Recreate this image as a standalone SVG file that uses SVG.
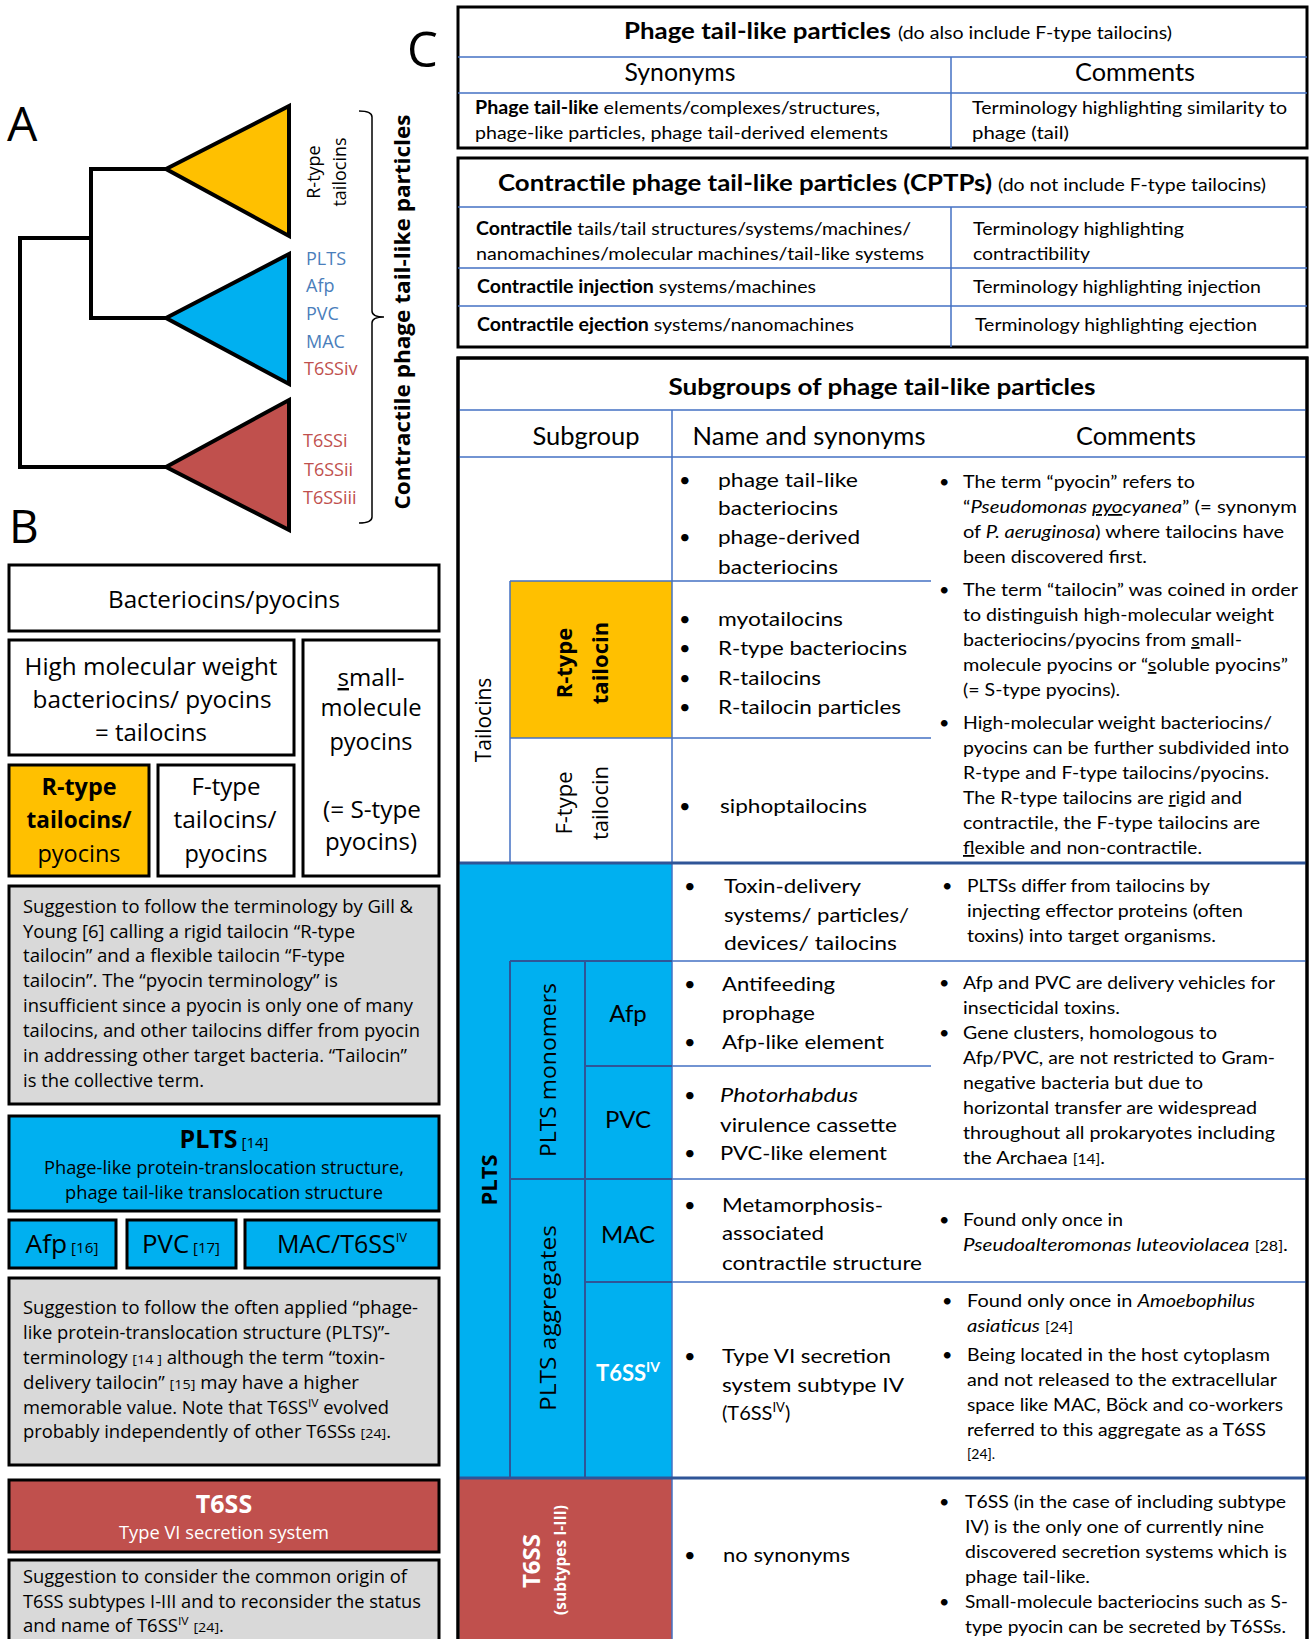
<svg xmlns="http://www.w3.org/2000/svg" width="1309" height="1639" viewBox="0 0 1309 1639">
<style>
.os{font-family:"Open Sans","DejaVu Sans",sans-serif}
.lt{font-family:Lato,"Liberation Sans",sans-serif}
.b{font-weight:bold}
.it{font-style:italic}
.u{text-decoration:underline}
.box{stroke:#000;stroke-width:3}
.bl{stroke:#4472C4;stroke-width:1.5;fill:none}
.db{stroke:#2F5597;stroke-width:2;fill:none}
.mid{text-anchor:middle}
.nm{font-family:Lato,"Liberation Sans",sans-serif;font-size:20px}
.cm{font-family:Lato,"Liberation Sans",sans-serif;font-size:18px}
.gt{font-family:"Open Sans","DejaVu Sans",sans-serif;font-size:17.5px}
.lb{fill:#4A7EBB}
.lr{fill:#C0504D}
</style>
<rect width="1309" height="1639" fill="#fff"/>

<!-- Panel labels -->
<text x="7" y="141" class="os" font-size="48">A</text>
<text x="9" y="543" class="os" font-size="46">B</text>
<text x="407" y="67" class="os" font-size="49">C</text>

<!-- Panel A -->
<g id="connectors" fill="none" stroke="#000" stroke-width="4">
<path d="M166,169 H91 V318 H166"/>
<path d="M91,238 H20 V467 H166"/>
<path d="M359,111 Q372,111 372,117 V311 Q372,317 384,317 Q372,317 372,323 V517 Q372,523 359,523" stroke-width="1.5"/>
</g>
<g id="clade-rtype"><polygon points="166,169 289,106 289,236" fill="#FFC000" stroke="#000" stroke-width="4"/></g>
<g id="clade-plts"><polygon points="166,318 289,254 289,384" fill="#00B0F0" stroke="#000" stroke-width="4"/></g>
<g id="clade-t6ss"><polygon points="166,467 289,400 289,530" fill="#C0504D" stroke="#000" stroke-width="4"/></g>
<g id="tree-labels" class="os" font-size="18">
<text transform="translate(320,172) rotate(-90)" class="mid">R-type</text>
<text transform="translate(346,172) rotate(-90)" class="mid">tailocins</text>
<text x="306" y="265" class="lb">PLTS</text>
<text x="306" y="292" class="lb">Afp</text>
<text x="306" y="320" class="lb">PVC</text>
<text x="306" y="348" class="lb">MAC</text>
<text x="304" y="375" class="lr">T6SSiv</text>
<text x="303" y="447" class="lr">T6SSi</text>
<text x="304" y="476" class="lr">T6SSii</text>
<text x="303" y="504" class="lr">T6SSiii</text>
<text transform="translate(410,312) rotate(-90)" class="mid b" font-size="22" textLength="395" lengthAdjust="spacingAndGlyphs">Contractile phage tail-like particles</text>
</g>

<!-- Panel B -->
<g id="b-bacteriocins">
<rect x="9" y="565" width="430" height="66" fill="#fff" class="box"/>
<text x="224" y="608" class="os mid" font-size="24" textLength="232" lengthAdjust="spacingAndGlyphs">Bacteriocins/pyocins</text>
</g>
<g id="b-hmw">
<rect x="9" y="640" width="285" height="115" fill="#fff" class="box"/>
<text x="151" y="675" class="os mid" font-size="24" textLength="253" lengthAdjust="spacingAndGlyphs">High molecular weight</text>
<text x="152" y="708" class="os mid" font-size="24" textLength="239" lengthAdjust="spacingAndGlyphs">bacteriocins/ pyocins</text>
<text x="151" y="741" class="os mid" font-size="24" textLength="112" lengthAdjust="spacingAndGlyphs">= tailocins</text>
</g>
<g id="b-small">
<rect x="303" y="640" width="136" height="236" fill="#fff" class="box"/>
<text x="371" y="686" class="os mid" font-size="24" textLength="67" lengthAdjust="spacingAndGlyphs"><tspan class="u">s</tspan>mall-</text>
<text x="371" y="716" class="os mid" font-size="24" textLength="101" lengthAdjust="spacingAndGlyphs">molecule</text>
<text x="371" y="750" class="os mid" font-size="24" textLength="83" lengthAdjust="spacingAndGlyphs">pyocins</text>
<text x="372" y="818" class="os mid" font-size="24" textLength="98" lengthAdjust="spacingAndGlyphs">(= S-type</text>
<text x="371" y="850" class="os mid" font-size="24" textLength="92" lengthAdjust="spacingAndGlyphs">pyocins)</text>
</g>
<g id="b-rtype">
<rect x="9" y="765" width="140" height="111" fill="#FFC000" class="box"/>
<text x="79" y="795" class="os mid b" font-size="24" textLength="75" lengthAdjust="spacingAndGlyphs">R-type</text>
<text x="79" y="828" class="os mid b" font-size="24" textLength="105" lengthAdjust="spacingAndGlyphs">tailocins/</text>
<text x="79" y="862" class="os mid" font-size="24" textLength="83" lengthAdjust="spacingAndGlyphs">pyocins</text>
</g>
<g id="b-ftype">
<rect x="158" y="765" width="136" height="111" fill="#fff" class="box"/>
<text x="226" y="795" class="os mid" font-size="24" textLength="69" lengthAdjust="spacingAndGlyphs">F-type</text>
<text x="225" y="828" class="os mid" font-size="24" textLength="103" lengthAdjust="spacingAndGlyphs">tailocins/</text>
<text x="226" y="862" class="os mid" font-size="24" textLength="83" lengthAdjust="spacingAndGlyphs">pyocins</text>
</g>
<g id="b-note1">
<rect x="9" y="886" width="430" height="218" fill="#D9D9D9" class="box"/>
<g class="gt">
<text x="23" y="913" textLength="390" lengthAdjust="spacingAndGlyphs">Suggestion to follow the terminology by Gill &amp;</text>
<text x="23" y="938" textLength="332" lengthAdjust="spacingAndGlyphs">Young [6] calling a rigid tailocin “R-type</text>
<text x="23" y="962" textLength="322" lengthAdjust="spacingAndGlyphs">tailocin” and a flexible tailocin “F-type</text>
<text x="23" y="987" textLength="315" lengthAdjust="spacingAndGlyphs">tailocin”. The “pyocin terminology” is</text>
<text x="23" y="1012" textLength="390" lengthAdjust="spacingAndGlyphs">insufficient since a pyocin is only one of many</text>
<text x="23" y="1037" textLength="397" lengthAdjust="spacingAndGlyphs">tailocins, and other tailocins differ from pyocin</text>
<text x="23" y="1062" textLength="384" lengthAdjust="spacingAndGlyphs">in addressing other target bacteria. “Tailocin”</text>
<text x="23" y="1087" textLength="181" lengthAdjust="spacingAndGlyphs">is the collective term.</text>
</g>
</g>
<g id="b-plts">
<rect x="9" y="1116" width="430" height="95" fill="#00B0F0" class="box"/>
<text x="224" y="1148" class="os mid"><tspan class="b" font-size="25">PLTS</tspan><tspan font-size="15"> [14]</tspan></text>
<text x="224" y="1174" class="os mid" font-size="17.5" textLength="360" lengthAdjust="spacingAndGlyphs">Phage-like protein-translocation structure,</text>
<text x="224" y="1199" class="os mid" font-size="17.5" textLength="318" lengthAdjust="spacingAndGlyphs">phage tail-like translocation structure</text>
</g>
<g id="b-afp">
<rect x="9" y="1220" width="107" height="48" fill="#00B0F0" class="box"/>
<text x="62" y="1253" class="os mid" textLength="73" lengthAdjust="spacingAndGlyphs"><tspan font-size="25">Afp</tspan><tspan font-size="14.5"> [16]</tspan></text>
</g>
<g id="b-pvc">
<rect x="127" y="1220" width="109" height="48" fill="#00B0F0" class="box"/>
<text x="181" y="1253" class="os mid" textLength="78" lengthAdjust="spacingAndGlyphs"><tspan font-size="25">PVC</tspan><tspan font-size="14.5"> [17]</tspan></text>
</g>
<g id="b-mac">
<rect x="245" y="1220" width="194" height="48" fill="#00B0F0" class="box"/>
<text x="342" y="1253" class="os mid"><tspan font-size="25">MAC/T6SS</tspan><tspan font-size="13" dy="-11">IV</tspan></text>
</g>
<g id="b-note2">
<rect x="9" y="1278" width="430" height="187" fill="#D9D9D9" class="box"/>
<g class="gt">
<text x="23" y="1314" textLength="395" lengthAdjust="spacingAndGlyphs">Suggestion to follow the often applied “phage-</text>
<text x="23" y="1339" textLength="367" lengthAdjust="spacingAndGlyphs">like protein-translocation structure (PLTS)”-</text>
<text x="23" y="1364" textLength="362" lengthAdjust="spacingAndGlyphs">terminology <tspan font-size="13.5">[14 ]</tspan> although the term “toxin-</text>
<text x="23" y="1389" textLength="336" lengthAdjust="spacingAndGlyphs">delivery tailocin” <tspan font-size="13.5">[15]</tspan> may have a higher</text>
<text x="23" y="1414" textLength="366" lengthAdjust="spacingAndGlyphs">memorable value. Note that T6SS<tspan font-size="11.5" dy="-7">IV</tspan><tspan dy="7"> evolved</tspan></text>
<text x="23" y="1438" textLength="368" lengthAdjust="spacingAndGlyphs">probably independently of other T6SSs <tspan font-size="13.5">[24]</tspan>.</text>
</g>
</g>
<g id="b-t6ss">
<rect x="9" y="1480" width="430" height="72" fill="#C0504D" class="box"/>
<text x="224" y="1513" class="os mid b" font-size="25" fill="#fff">T6SS</text>
<text x="224" y="1539" class="os mid" font-size="18" fill="#fff" textLength="210" lengthAdjust="spacingAndGlyphs">Type VI secretion system</text>
</g>
<g id="b-note3">
<rect x="9" y="1560" width="430" height="110" fill="#D9D9D9" class="box"/>
<g class="gt">
<text x="23" y="1583" textLength="384" lengthAdjust="spacingAndGlyphs">Suggestion to consider the common origin of</text>
<text x="23" y="1608" textLength="398" lengthAdjust="spacingAndGlyphs">T6SS subtypes I-III and to reconsider the status</text>
<text x="23" y="1632" textLength="201" lengthAdjust="spacingAndGlyphs">and name of T6SS<tspan font-size="11.5" dy="-7">IV</tspan><tspan dy="7"> </tspan><tspan font-size="13.5">[24]</tspan>.</text>
</g>
</g>

<!-- Panel C: table 1 -->
<g id="c-table1">
<rect x="458" y="7" width="849" height="141" fill="#fff" class="box"/>
<path d="M458,57 H1307 M458,93 H1307 M951,57 V148" class="bl"/>
<text x="624" y="39" class="lt b" font-size="22" textLength="267" lengthAdjust="spacingAndGlyphs">Phage tail-like particles</text>
<text x="898" y="39" class="lt" font-size="17" textLength="274" lengthAdjust="spacingAndGlyphs">(do also include F-type tailocins)</text>
<text x="680" y="81" class="lt mid" font-size="25" textLength="111" lengthAdjust="spacingAndGlyphs">Synonyms</text>
<text x="1135" y="81" class="lt mid" font-size="25" textLength="120" lengthAdjust="spacingAndGlyphs">Comments</text>
<text x="475" y="114" class="lt" font-size="18" textLength="405" lengthAdjust="spacingAndGlyphs"><tspan class="b">Phage tail-like</tspan> elements/complexes/structures,</text>
<text x="475" y="139" class="lt" font-size="18" textLength="413" lengthAdjust="spacingAndGlyphs">phage-like particles, phage tail-derived elements</text>
<text x="972" y="114" class="lt" font-size="18" textLength="315" lengthAdjust="spacingAndGlyphs">Terminology highlighting similarity to</text>
<text x="972" y="139" class="lt" font-size="18" textLength="97" lengthAdjust="spacingAndGlyphs">phage (tail)</text>
</g>

<!-- Panel C: table 2 -->
<g id="c-table2">
<rect x="458" y="158" width="849" height="189" fill="#fff" class="box"/>
<path d="M458,207 H1307 M458,268 H1307 M458,306 H1307 M951,207 V347" class="bl"/>
<text x="498" y="191" class="lt b" font-size="22.5" textLength="494" lengthAdjust="spacingAndGlyphs">Contractile phage tail-like particles (CPTPs)</text>
<text x="998" y="191" class="lt" font-size="17" textLength="268" lengthAdjust="spacingAndGlyphs">(do not include F-type tailocins)</text>
<text x="476" y="235" class="lt" font-size="18" textLength="435" lengthAdjust="spacingAndGlyphs"><tspan class="b">Contractile</tspan> tails/tail structures/systems/machines/</text>
<text x="476" y="260" class="lt" font-size="18" textLength="448" lengthAdjust="spacingAndGlyphs">nanomachines/molecular machines/tail-like systems</text>
<text x="973" y="235" class="lt" font-size="18" textLength="211" lengthAdjust="spacingAndGlyphs">Terminology highlighting</text>
<text x="973" y="260" class="lt" font-size="18" textLength="117" lengthAdjust="spacingAndGlyphs">contractibility</text>
<text x="477" y="293" class="lt" font-size="18" textLength="339" lengthAdjust="spacingAndGlyphs"><tspan class="b">Contractile injection</tspan> systems/machines</text>
<text x="973" y="293" class="lt" font-size="18" textLength="288" lengthAdjust="spacingAndGlyphs">Terminology highlighting injection</text>
<text x="477" y="331" class="lt" font-size="18" textLength="377" lengthAdjust="spacingAndGlyphs"><tspan class="b">Contractile ejection</tspan> systems/nanomachines</text>
<text x="975" y="331" class="lt" font-size="18" textLength="282" lengthAdjust="spacingAndGlyphs">Terminology highlighting ejection</text>
</g>

<!-- Panel C: table 3 -->
<g id="c-table3">
<rect x="458" y="358" width="849" height="1300" fill="#fff" class="box"/>
<rect x="510" y="581" width="162" height="157" fill="#FFC000"/>
<rect x="459.5" y="863" width="212.5" height="615" fill="#00B0F0"/>
<rect x="459.5" y="1478" width="212.5" height="180" fill="#C0504D"/>
<path d="M458,410 H1307 M458,457 H1307 M672,410 V1660 M510,581 V863 M510,581 H931 M510,738 H931" class="bl"/>
<path d="M672,961 H1307 M672,1179 H1307 M672,1282 H1307 M672,1066 H931" class="bl"/>
<path d="M510,961 H672 M510,1179 H672 M585,1282 H672 M585,1066 H672 M510,961 V1478 M585,961 V1478" class="db"/>
<path d="M458,863 H1307 M458,1478 H1307" stroke="#2F5597" stroke-width="3" fill="none"/>
<rect x="458" y="358" width="849" height="1300" fill="none" class="box"/>
<text x="882" y="395" class="lt b mid" font-size="23" textLength="427" lengthAdjust="spacingAndGlyphs">Subgroups of phage tail-like particles</text>
<text x="586" y="445" class="lt mid" font-size="25" textLength="107" lengthAdjust="spacingAndGlyphs">Subgroup</text>
<text x="809" y="445" class="lt mid" font-size="25" textLength="233" lengthAdjust="spacingAndGlyphs">Name and synonyms</text>
<text x="1136" y="445" class="lt mid" font-size="25" textLength="120" lengthAdjust="spacingAndGlyphs">Comments</text>
</g>

<g id="c-tailocins">
<text transform="translate(491,720) rotate(-90)" class="os mid" font-size="21">Tailocins</text>
<text transform="translate(572,663) rotate(-90)" class="os mid b" font-size="22">R-type</text>
<text transform="translate(608,663) rotate(-90)" class="os mid b" font-size="22">tailocin</text>
<text transform="translate(572,803) rotate(-90)" class="os mid" font-size="22">F-type</text>
<text transform="translate(608,803) rotate(-90)" class="os mid" font-size="22">tailocin</text>
<g class="nm">
<text x="679" y="487">•</text><text x="718" y="487" textLength="140" lengthAdjust="spacingAndGlyphs">phage tail-like</text>
<text x="718" y="515" textLength="120" lengthAdjust="spacingAndGlyphs">bacteriocins</text>
<text x="679" y="544">•</text><text x="718" y="544" textLength="142" lengthAdjust="spacingAndGlyphs">phage-derived</text>
<text x="718" y="574" textLength="120" lengthAdjust="spacingAndGlyphs">bacteriocins</text>
<text x="679" y="626">•</text><text x="718" y="626" textLength="125" lengthAdjust="spacingAndGlyphs">myotailocins</text>
<text x="679" y="655">•</text><text x="718" y="655" textLength="189" lengthAdjust="spacingAndGlyphs">R-type bacteriocins</text>
<text x="679" y="685">•</text><text x="718" y="685" textLength="103" lengthAdjust="spacingAndGlyphs">R-tailocins</text>
<text x="679" y="714">•</text><text x="718" y="714" textLength="183" lengthAdjust="spacingAndGlyphs">R-tailocin particles</text>
<text x="679" y="813">•</text><text x="720" y="813" textLength="147" lengthAdjust="spacingAndGlyphs">siphoptailocins</text>
</g>
<g class="cm">
<text x="939" y="488">•</text><text x="963" y="488" textLength="232" lengthAdjust="spacingAndGlyphs">The term “pyocin” refers to</text>
<text x="963" y="513" textLength="334" lengthAdjust="spacingAndGlyphs">“<tspan class="it">Pseudomonas <tspan class="u">pyo</tspan>cyanea</tspan>” (= synonym</text>
<text x="963" y="538" textLength="321" lengthAdjust="spacingAndGlyphs">of <tspan class="it">P. aeruginosa</tspan>) where tailocins have</text>
<text x="963" y="563" textLength="184" lengthAdjust="spacingAndGlyphs">been discovered first.</text>
<text x="939" y="596">•</text><text x="963" y="596" textLength="335" lengthAdjust="spacingAndGlyphs">The term “tailocin” was coined in order</text>
<text x="963" y="621" textLength="311" lengthAdjust="spacingAndGlyphs">to distinguish high-molecular weight</text>
<text x="963" y="646" textLength="279" lengthAdjust="spacingAndGlyphs">bacteriocins/pyocins from <tspan class="u">s</tspan>mall-</text>
<text x="963" y="671" textLength="325" lengthAdjust="spacingAndGlyphs">molecule pyocins or “<tspan class="u">s</tspan>oluble pyocins”</text>
<text x="963" y="696" textLength="157" lengthAdjust="spacingAndGlyphs">(= S-type pyocins).</text>
<text x="939" y="729">•</text><text x="963" y="729" textLength="309" lengthAdjust="spacingAndGlyphs">High-molecular weight bacteriocins/</text>
<text x="963" y="754" textLength="326" lengthAdjust="spacingAndGlyphs">pyocins can be further subdivided into</text>
<text x="963" y="779" textLength="306" lengthAdjust="spacingAndGlyphs">R-type and F-type tailocins/pyocins.</text>
<text x="963" y="804" textLength="279" lengthAdjust="spacingAndGlyphs">The R-type tailocins are <tspan class="u">r</tspan>igid and</text>
<text x="963" y="829" textLength="297" lengthAdjust="spacingAndGlyphs">contractile, the F-type tailocins are</text>
<text x="963" y="854" textLength="239" lengthAdjust="spacingAndGlyphs"><tspan class="u">f</tspan>lexible and non-contractile.</text>
</g>
</g>

<g id="c-plts">
<text transform="translate(497,1180) rotate(-90)" class="os mid b" font-size="22">PLTS</text>
<text transform="translate(556,1070) rotate(-90)" class="os mid" font-size="21" textLength="174" lengthAdjust="spacingAndGlyphs">PLTS monomers</text>
<text transform="translate(556,1318) rotate(-90)" class="os mid" font-size="21" textLength="186" lengthAdjust="spacingAndGlyphs">PLTS aggregates</text>
<text x="628" y="1022" class="lt mid" font-size="24">Afp</text>
<text x="628" y="1128" class="lt mid" font-size="24">PVC</text>
<text x="628" y="1243" class="lt mid" font-size="24">MAC</text>
<text x="628" y="1381" class="lt mid b" font-size="22" fill="#fff">T6SS<tspan font-size="14" dy="-9">IV</tspan></text>
<g class="nm">
<text x="684" y="893">•</text><text x="724" y="893" textLength="137" lengthAdjust="spacingAndGlyphs">Toxin-delivery</text>
<text x="724" y="922" textLength="185" lengthAdjust="spacingAndGlyphs">systems/ particles/</text>
<text x="724" y="950" textLength="173" lengthAdjust="spacingAndGlyphs">devices/ tailocins</text>
<text x="684" y="991">•</text><text x="722" y="991" textLength="113" lengthAdjust="spacingAndGlyphs">Antifeeding</text>
<text x="722" y="1020" textLength="93" lengthAdjust="spacingAndGlyphs">prophage</text>
<text x="684" y="1049">•</text><text x="722" y="1049" textLength="162" lengthAdjust="spacingAndGlyphs">Afp-like element</text>
<text x="684" y="1102">•</text><text x="720" y="1102" class="it" textLength="138" lengthAdjust="spacingAndGlyphs">Photorhabdus</text>
<text x="720" y="1132" textLength="177" lengthAdjust="spacingAndGlyphs">virulence cassette</text>
<text x="684" y="1160">•</text><text x="720" y="1160" textLength="167" lengthAdjust="spacingAndGlyphs">PVC-like element</text>
<text x="684" y="1212">•</text><text x="722" y="1212" textLength="161" lengthAdjust="spacingAndGlyphs">Metamorphosis-</text>
<text x="722" y="1240" textLength="102" lengthAdjust="spacingAndGlyphs">associated</text>
<text x="722" y="1270" textLength="200" lengthAdjust="spacingAndGlyphs">contractile structure</text>
<text x="684" y="1363">•</text><text x="722" y="1363" textLength="169" lengthAdjust="spacingAndGlyphs">Type VI secretion</text>
<text x="722" y="1392" textLength="182" lengthAdjust="spacingAndGlyphs">system subtype IV</text>
<text x="722" y="1420">(T6SS<tspan font-size="13" dy="-8">IV</tspan><tspan dy="8">)</tspan></text>
</g>
<g class="cm">
<text x="942" y="892">•</text><text x="967" y="892" textLength="243" lengthAdjust="spacingAndGlyphs">PLTSs differ from tailocins by</text>
<text x="967" y="917" textLength="276" lengthAdjust="spacingAndGlyphs">injecting effector proteins (often</text>
<text x="967" y="942" textLength="249" lengthAdjust="spacingAndGlyphs">toxins) into target organisms.</text>
<text x="939" y="989">•</text><text x="963" y="989" textLength="312" lengthAdjust="spacingAndGlyphs">Afp and PVC are delivery vehicles for</text>
<text x="963" y="1014" textLength="157" lengthAdjust="spacingAndGlyphs">insecticidal toxins.</text>
<text x="939" y="1039">•</text><text x="963" y="1039" textLength="254" lengthAdjust="spacingAndGlyphs">Gene clusters, homologous to</text>
<text x="963" y="1064" textLength="312" lengthAdjust="spacingAndGlyphs">Afp/PVC, are not restricted to Gram-</text>
<text x="963" y="1089" textLength="240" lengthAdjust="spacingAndGlyphs">negative bacteria but due to</text>
<text x="963" y="1114" textLength="294" lengthAdjust="spacingAndGlyphs">horizontal transfer are widespread</text>
<text x="963" y="1139" textLength="312" lengthAdjust="spacingAndGlyphs">throughout all prokaryotes including</text>
<text x="963" y="1164" textLength="142" lengthAdjust="spacingAndGlyphs">the Archaea <tspan font-size="14">[14]</tspan>.</text>
<text x="939" y="1226">•</text><text x="963" y="1226" textLength="160" lengthAdjust="spacingAndGlyphs">Found only once in</text>
<text x="963" y="1251" textLength="325" lengthAdjust="spacingAndGlyphs"><tspan class="it">Pseudoalteromonas luteoviolacea</tspan> <tspan font-size="14">[28]</tspan>.</text>
<text x="942" y="1307">•</text><text x="967" y="1307" textLength="288" lengthAdjust="spacingAndGlyphs">Found only once in <tspan class="it">Amoebophilus</tspan></text>
<text x="967" y="1332" textLength="106" lengthAdjust="spacingAndGlyphs"><tspan class="it">asiaticus</tspan> <tspan font-size="14">[24]</tspan></text>
<text x="942" y="1361">•</text><text x="967" y="1361" textLength="303" lengthAdjust="spacingAndGlyphs">Being located in the host cytoplasm</text>
<text x="967" y="1386" textLength="310" lengthAdjust="spacingAndGlyphs">and not released to the extracellular</text>
<text x="967" y="1411" textLength="316" lengthAdjust="spacingAndGlyphs">space like MAC, Böck and co-workers</text>
<text x="967" y="1436" textLength="299" lengthAdjust="spacingAndGlyphs">referred to this aggregate as a T6SS</text>
<text x="967" y="1459" font-size="14">[24].</text>
</g>
</g>

<g id="c-t6ss">
<text transform="translate(540,1561) rotate(-90)" class="os mid b" font-size="24" fill="#fff">T6SS</text>
<text transform="translate(566,1560) rotate(-90)" class="os mid b" font-size="15.5" fill="#fff">(subtypes I-III)</text>
<g class="nm">
<text x="684" y="1562">•</text><text x="723" y="1562" textLength="127" lengthAdjust="spacingAndGlyphs">no synonyms</text>
</g>
<g class="cm">
<text x="939" y="1508">•</text><text x="965" y="1508" textLength="321" lengthAdjust="spacingAndGlyphs">T6SS (in the case of including subtype</text>
<text x="965" y="1533" textLength="299" lengthAdjust="spacingAndGlyphs">IV) is the only one of currently nine</text>
<text x="965" y="1558" textLength="322" lengthAdjust="spacingAndGlyphs">discovered secretion systems which is</text>
<text x="965" y="1583" textLength="125" lengthAdjust="spacingAndGlyphs">phage tail-like.</text>
<text x="939" y="1608">•</text><text x="965" y="1608" textLength="323" lengthAdjust="spacingAndGlyphs">Small-molecule bacteriocins such as S-</text>
<text x="965" y="1633" textLength="321" lengthAdjust="spacingAndGlyphs">type pyocin can be secreted by T6SSs.</text>
</g>
</g>
</svg>
